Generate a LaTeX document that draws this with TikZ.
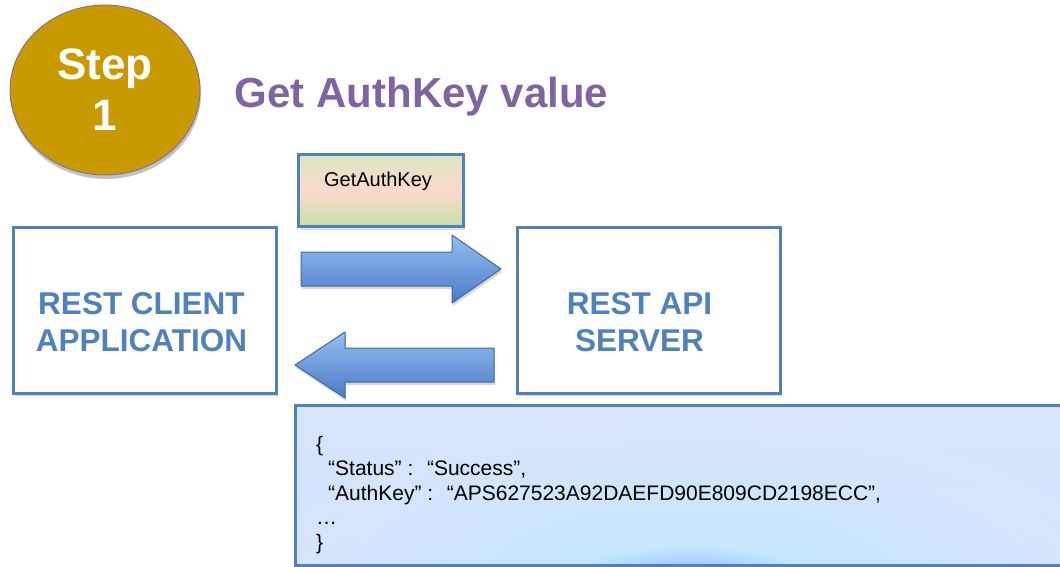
\documentclass[tikz,border=0pt]{standalone}
\usepackage{fontspec}
\setmainfont{Liberation Sans}
\usetikzlibrary{positioning,shadows,shapes.geometric}

\definecolor{boxblue}{HTML}{4F81BD}
\definecolor{titlepurple}{HTML}{8064A2}
\definecolor{stepgold}{HTML}{C99A00}
\definecolor{reqtop}{HTML}{DBE6BF}
\definecolor{reqmid}{HTML}{FCDACE}
\definecolor{reqbot}{HTML}{C8DEA4}
\definecolor{arrowtop}{HTML}{98BCEE}
\definecolor{arrowbot}{HTML}{487CC8}
\definecolor{bodytop}{HTML}{DAE4FB}
\definecolor{bodybot}{HTML}{CDE5FC}
\definecolor{bodyglow}{HTML}{BDEAFE}

\tikzset{
  hostbox/.style={draw=boxblue,line width=3pt,fill=white,minimum width=263pt,minimum height=166pt,
    drop shadow={shadow xshift=1pt,shadow yshift=-3pt,fill=black!25,opacity=.6}},
  hosttext/.style={text=boxblue,font=\fontsize{31.5}{37}\selectfont\bfseries,align=center},
  bigarrow/.style={draw=arrowbot!85!black,line width=1pt,line join=round,top color=arrowtop,bottom color=arrowbot,
    drop shadow={shadow xshift=1pt,shadow yshift=-3pt,fill=black!30,opacity=.5}},
}

\begin{document}
\begin{tikzpicture}[x=1pt,y=-1pt]
  \useasboundingbox (0,0) rectangle (1060,567);
  % step badge
  \node (step) at (105,90) [ellipse,draw=titlepurple,line width=.8pt,fill=stepgold,minimum width=190pt,minimum height=170pt,
    text=white,font=\fontsize{44}{51}\selectfont\bfseries,align=center,
    drop shadow={shadow xshift=1pt,shadow yshift=-4pt,fill=black!40,opacity=.6}] {Step\\1};
  \node (title) at (421.5,97) [text=titlepurple,font=\fontsize{42}{48}\selectfont\bfseries] {Get AuthKey value};

  % client and server
  \node (client) at (145,310) [hostbox,label={[hosttext,xshift=-3.5pt,yshift=-12pt]center:REST CLIENT\\APPLICATION}] {};
  \node (server) at (648.5,310) [hostbox,label={[hosttext,xshift=-9pt,yshift=-12pt]center:REST API\\SERVER}] {};

  % request label
  \node (req) at (381,190.5) [draw=boxblue,line width=3pt,minimum width=165pt,minimum height=72pt,
    top color=reqtop,bottom color=reqbot,middle color=reqmid,
    drop shadow={shadow xshift=1pt,shadow yshift=-3pt,fill=black!25,opacity=.5},
    label={[font=\fontsize{20}{24}\selectfont,xshift=-3pt,yshift=9pt]center:GetAuthKey}] {};

  % arrows
  \coordinate (rqs) at (301,269);
  \coordinate (rqe) at (501,269);
  \draw [bigarrow] (rqs) ++(0,-17) -- ++(151,0) -- ++(0,-17) -- (rqe) -- ++(-49,34) -- ++(0,-17) -- ++(-151,0) -- cycle;
  \coordinate (rss) at (494,365);
  \coordinate (rse) at (295,365);
  \draw [bigarrow] (rss) ++(0,-17) -- ++(-149,0) -- ++(0,-16) -- (rse) -- ++(50,33) -- ++(0,-16) -- ++(149,0) -- cycle;

  % response body
  \begin{scope}
    \clip (295,405) rectangle (1075,565);
    \shade [top color=bodytop,bottom color=bodybot] (295,405) rectangle (1075,565);
    \shade [inner color=bodyglow,outer color=bodytop,opacity=.85] (690,590) ellipse (430pt and 170pt);
    \shade [inner color=blue!30!bodyglow,outer color=bodyglow,opacity=.6] (690,570) ellipse (110pt and 22pt);
  \end{scope}
  \draw [boxblue,line width=3pt] (1075,405) -- (295,405) -- (295,565) -- (1075,565);
  \node (body) at (316,436) [anchor=north west,inner sep=0pt,align=left,font=\fontsize{21}{24.5}\selectfont] {%
    \{\\
    \hspace*{12pt}“Status” :~ “Success”,\\
    \hspace*{12pt}“AuthKey” :~ “APS627523A92DAEFD90E809CD2198ECC”,\\
    …\\
    \}};
\end{tikzpicture}
\end{document}
